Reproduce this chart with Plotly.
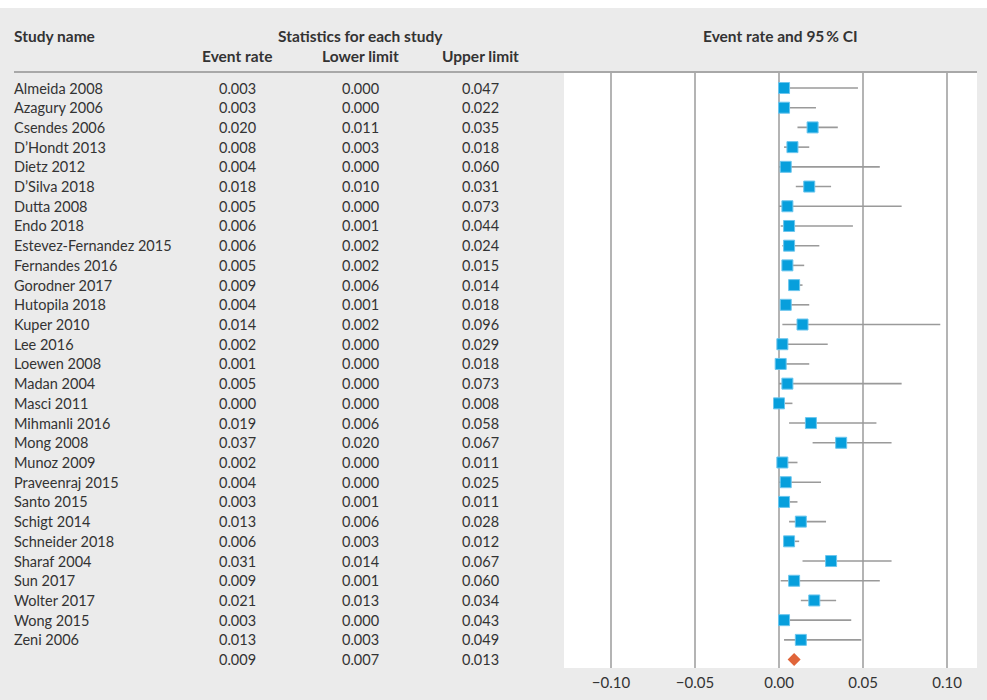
import plotly.graph_objects as go

# Study-level proportions with 95% confidence limits
studies = [
    "Almeida 2008", "Azagury 2006", "Csendes 2006", "D’Hondt 2013", "Dietz 2012",
    "D’Silva 2018", "Dutta 2008", "Endo 2018", "Estevez-Fernandez 2015", "Fernandes 2016",
    "Gorodner 2017", "Hutopila 2018", "Kuper 2010", "Lee 2016", "Loewen 2008",
    "Madan 2004", "Masci 2011", "Mihmanli 2016", "Mong 2008", "Munoz 2009",
    "Praveenraj 2015", "Santo 2015", "Schigt 2014", "Schneider 2018", "Sharaf 2004",
    "Sun 2017", "Wolter 2017", "Wong 2015", "Zeni 2006",
]
event_rate = [0.003, 0.003, 0.020, 0.008, 0.004, 0.018, 0.005, 0.006, 0.006, 0.005,
              0.009, 0.004, 0.014, 0.002, 0.001, 0.005, 0.000, 0.019, 0.037, 0.002,
              0.004, 0.003, 0.013, 0.006, 0.031, 0.009, 0.021, 0.003, 0.013]
lower_limit = [0.000, 0.000, 0.011, 0.003, 0.000, 0.010, 0.000, 0.001, 0.002, 0.002,
               0.006, 0.001, 0.002, 0.000, 0.000, 0.000, 0.000, 0.006, 0.020, 0.000,
               0.000, 0.001, 0.006, 0.003, 0.014, 0.001, 0.013, 0.000, 0.003]
upper_limit = [0.047, 0.022, 0.035, 0.018, 0.060, 0.031, 0.073, 0.044, 0.024, 0.015,
               0.014, 0.018, 0.096, 0.029, 0.018, 0.073, 0.008, 0.058, 0.067, 0.011,
               0.025, 0.011, 0.028, 0.012, 0.067, 0.060, 0.034, 0.043, 0.049]

# Pooled estimate
pooled = {"rate": 0.009, "lower": 0.007, "upper": 0.013}

x_ticks = [-0.10, -0.05, 0.00, 0.05, 0.10]
x_tick_labels = ["−0.10", "−0.05", "0.00", "0.05", "0.10"]

W, H = 987, 700
FONT = "Lato, 'Noto Sans', sans-serif"
TEXT = "#333333"
BG = "#ebebeb"

rows = list(range(len(studies)))
pooled_row = len(studies)

def px(v):
    return v / W

def py(v):
    return 1 - v / H

fig = go.Figure()

# confidence intervals + study squares
fig.add_trace(go.Scatter(
    x=event_rate, y=rows, mode="markers",
    marker=dict(symbol="square", size=11, color="#079fdc",
                line=dict(color="#6cc6ee", width=1)),
    error_x=dict(type="data", symmetric=False,
                 array=[u - e for u, e in zip(upper_limit, event_rate)],
                 arrayminus=[e - l for e, l in zip(event_rate, lower_limit)],
                 color="#9a9a9a", thickness=1.6, width=0),
    hoverinfo="skip", showlegend=False,
))

# pooled diamond
fig.add_trace(go.Scatter(
    x=[pooled["rate"]], y=[pooled_row], mode="markers",
    marker=dict(symbol="diamond", size=10, color="#e0653a"),
    hoverinfo="skip", showlegend=False,
))

# table columns
col_x = {"name": 12, "rate": 237, "lower": 360, "upper": 480}
ann = []
for i, name in enumerate(studies):
    ann.append(dict(x=px(col_x["name"]), y=i, xref="paper", yref="y", text=name,
                    xanchor="left", showarrow=False))
    for key, vals in (("rate", event_rate), ("lower", lower_limit), ("upper", upper_limit)):
        ann.append(dict(x=px(col_x[key]), y=i, xref="paper", yref="y",
                        text=f"{vals[i]:.3f}", xanchor="center", showarrow=False))
for key in ("rate", "lower", "upper"):
    ann.append(dict(x=px(col_x[key]), y=pooled_row, xref="paper", yref="y",
                    text=f"{pooled[key]:.3f}", xanchor="center", showarrow=False))

# header labels
bold = dict(family=FONT, size=15.5, color=TEXT, weight="bold")
ann += [
    dict(x=px(12), y=py(35.5), text="Study name", xanchor="left"),
    dict(x=px(360), y=py(35.5), text="Statistics for each study", xanchor="center"),
    dict(x=px(237), y=py(56), text="Event rate", xanchor="center"),
    dict(x=px(360), y=py(56), text="Lower limit", xanchor="center"),
    dict(x=px(480), y=py(56), text="Upper limit", xanchor="center"),
    dict(x=px(780), y=py(35.5), text="Event rate and 95\u2009% CI", xanchor="center"),
]
for a in ann[-6:]:
    a.update(xref="paper", yref="paper", yanchor="middle", showarrow=False, font=bold)

row_px = 19.71
top_px, bot_px, first_px = 72, 668, 88
y_top = (top_px - first_px) / row_px
y_bot = (bot_px - first_px) / row_px

fig.update_layout(
    width=W, height=H,
    margin=dict(l=0, r=0, t=0, b=0),
    paper_bgcolor=BG, plot_bgcolor="white",
    font=dict(family=FONT, size=14.5, color=TEXT),
    annotations=ann,
    xaxis=dict(domain=[px(564), px(977)], range=[(564 - 779) / 1680, (977 - 779) / 1680],
               tickvals=x_ticks, ticktext=x_tick_labels, showgrid=True,
               gridcolor="#b4b4b4", gridwidth=2, zeroline=False, showline=False,
               ticks="", ticklabelstandoff=4, tickfont=dict(size=15, color=TEXT),
               fixedrange=True),
    yaxis=dict(domain=[1 - bot_px / H, 1 - top_px / H], range=[y_bot, y_top],
               showgrid=False, zeroline=False, showticklabels=False, fixedrange=True),
    shapes=[
        dict(type="rect", xref="paper", yref="paper", x0=0, x1=1, y0=py(8), y1=1,
             fillcolor="white", line=dict(width=0), layer="below"),
        dict(type="line", xref="paper", yref="paper", x0=px(14), x1=px(977),
             y0=py(72), y1=py(72), line=dict(color="#a8a8a8", width=2)),
    ],
)

fig.write_html("out.html")
